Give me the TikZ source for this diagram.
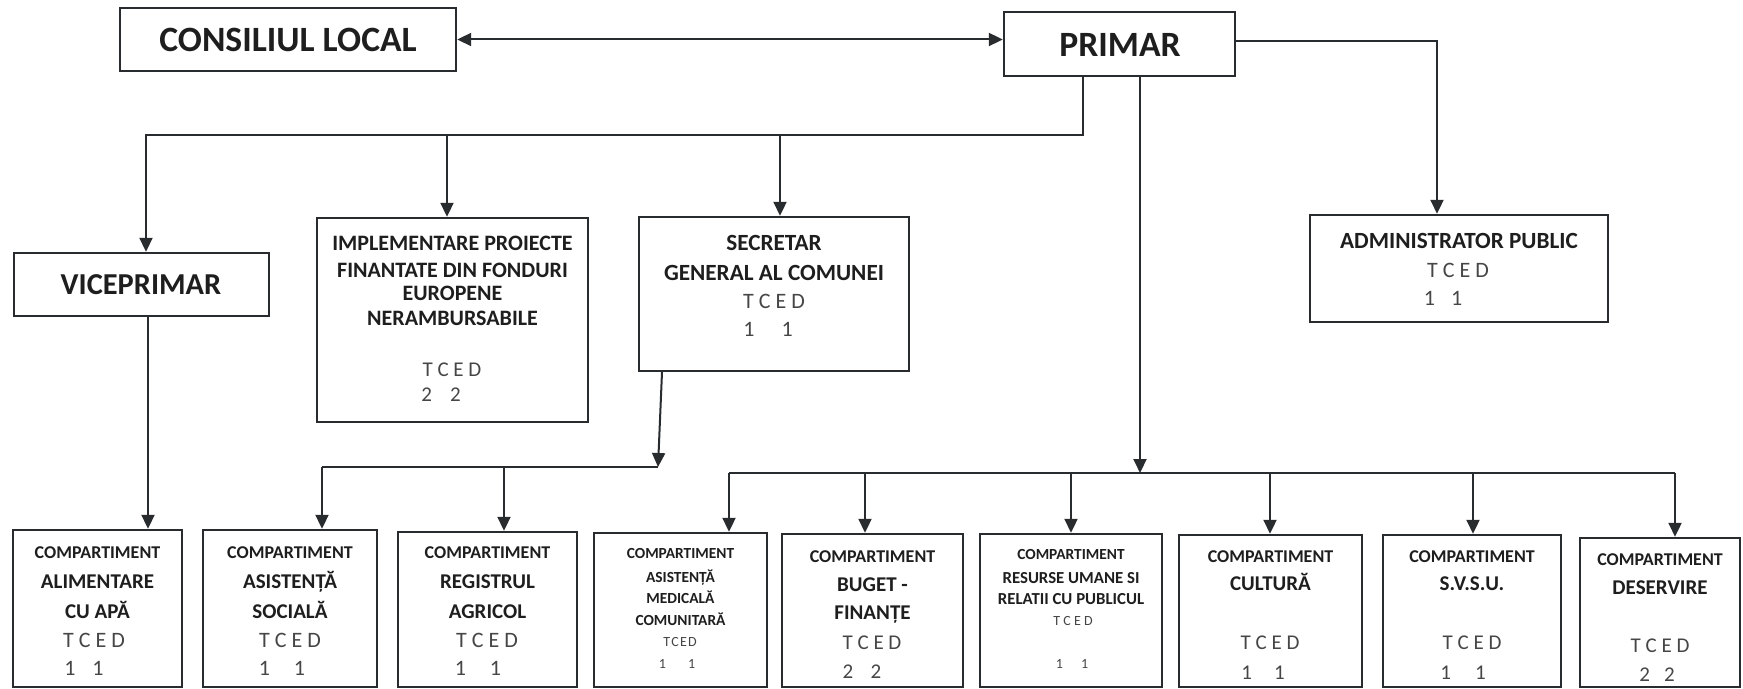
\documentclass[tikz,border=0pt]{standalone}
\usepackage{fontspec}
\setmainfont{Carlito}
\usetikzlibrary{arrows.meta,fit}
\definecolor{ink}{RGB}{40,44,46}
\definecolor{txt}{RGB}{30,30,30}
\definecolor{regc}{RGB}{70,70,70}
\tikzset{
  box/.style={draw=ink, line width=1.2pt, inner sep=0pt},
  conn/.style={draw=ink, line width=1pt},
  arr/.style={conn, -{Triangle[length=7pt,width=6.5pt]}},
  darr/.style={conn, {Triangle[length=7pt,width=6.5pt]}-{Triangle[length=7pt,width=6.5pt]}},
  tbase/.style={inner sep=0pt, text depth=0pt, anchor=center},
  fBig/.style={tbase, text=txt, text height=11.5pt, font=\bfseries\fontsize{17.8pt}{20pt}\selectfont},
  fVice/.style={tbase, text=txt, text height=9.8pt, font=\bfseries\fontsize{15.2pt}{18pt}\selectfont},
  fMid/.style={tbase, text=txt, text height=7.4pt, font=\bfseries\fontsize{11.6pt}{14pt}\selectfont},
  fImp/.style={tbase, text=txt, text height=7.1pt, font=\bfseries\fontsize{11pt}{13pt}\selectfont},
  fName/.style={tbase, text=txt, text height=6.8pt, font=\bfseries\fontsize{10.5pt}{13pt}\selectfont},
  fComp/.style={tbase, text=txt, text height=5.8pt, font=\bfseries\fontsize{9pt}{11pt}\selectfont},
  fSm/.style={tbase, text=txt, text height=5.0pt, font=\bfseries\fontsize{7.7pt}{9pt}\selectfont},
  fSmL/.style={tbase, text=txt, text height=5.4pt, font=\bfseries\fontsize{8.4pt}{10pt}\selectfont},
  fReg/.style={tbase, text=regc, text height=7.1pt, font=\fontsize{11pt}{13pt}\selectfont},
  fRegM/.style={tbase, text=regc, text height=6.8pt, font=\fontsize{10.5pt}{13pt}\selectfont},
  fRegS/.style={tbase, text=regc, text height=4.5pt, font=\fontsize{7pt}{9pt}\selectfont},
  fRegT/.style={tbase, text=regc, text height=4.5pt, font=\fontsize{7pt}{9pt}\selectfont},
}
\begin{document}
\begin{tikzpicture}[x=0.5pt,y=-0.5pt]
\fill[white] (0,0) rectangle (1743,689);
\useasboundingbox (0,0) rectangle (1743,689);

% ---------- boxes ----------
\node[box, fit={(120,8)(456,71)}] (cl) {};
\node[box, fit={(1004,12)(1235,76)}] (pr) {};
\node[box, fit={(1310,215)(1608,322)}] (adm) {};
\node[box, fit={(14,253)(269,316)}] (vp) {};
\node[box, fit={(317,218)(588,422)}] (imp) {};
\node[box, fit={(639,217)(909,371)}] (sec) {};
\node[box, fit={(13,530)(182,687)}] (b1) {};
\node[box, fit={(203,530)(377,687)}] (b2) {};
\node[box, fit={(398,532)(577,687)}] (b3) {};
\node[box, fit={(594,533)(767,687)}] (b4) {};
\node[box, fit={(782,534)(963,687)}] (b5) {};
\node[box, fit={(980,534)(1162,687)}] (b6) {};
\node[box, fit={(1179,535)(1362,687)}] (b7) {};
\node[box, fit={(1383,535)(1561,687)}] (b8) {};
\node[box, fit={(1580,538)(1740,687)}] (b9) {};

% ---------- texts: top ----------
\node[fBig] (cl-t) at (288,40) {CONSILIUL LOCAL};
\node[fBig] (pr-t) at (1120,45) {PRIMAR};
\node[fVice] (vp-t) at (141,285) {VICEPRIMAR};

\node[fImp] (imp-1) at (452.5,243) {IMPLEMENTARE PROIECTE};
\node[fImp] (imp-2) at (452.5,270) {FINANTATE DIN FONDURI};
\node[fImp] (imp-3) at (452.5,293) {EUROPENE};
\node[fImp] (imp-4) at (452.5,318) {NERAMBURSABILE};
\node[fRegM] (imp-5) at (452,370) {T C E D};
\node[fRegM] (imp-6) at (441,395) {2\hspace{9pt}2};

\node[fMid] (sec-1) at (774,243) {SECRETAR};
\node[fMid] (sec-2) at (774,273) {GENERAL AL COMUNEI};
\node[fReg] (sec-3) at (774,301) {T C E D};
\node[fReg] (sec-4) at (768,329) {1\hspace{13.5pt}1};

\node[fMid] (adm-1) at (1459,241) {ADMINISTRATOR PUBLIC};
\node[fReg] (adm-2) at (1458,270) {T C E D};
\node[fReg] (adm-3) at (1443,298) {1\hspace{8pt}1};

% ---------- texts: bottom ----------
\node[fComp] (b1-1) at (97.5,553) {COMPARTIMENT};
\node[fName] (b1-2) at (97.5,582) {ALIMENTARE};
\node[fName] (b1-3) at (97.5,612) {CU APĂ};
\node[fReg] (b1-4) at (94,640) {T C E D};
\node[fReg] (b1-5) at (84,668) {1\hspace{8.5pt}1};

\node[fComp] (b2-1) at (290,553) {COMPARTIMENT};
\node[fName] (b2-2) at (290,582) {ASISTENȚĂ};
\node[fName] (b2-3) at (290,612) {SOCIALĂ};
\node[fReg] (b2-4) at (290,640) {T C E D};
\node[fReg] (b2-5) at (282,668) {1\hspace{12pt}1};

\node[fComp] (b3-1) at (487.5,553) {COMPARTIMENT};
\node[fName] (b3-2) at (487.5,582) {REGISTRUL};
\node[fName] (b3-3) at (487.5,612) {AGRICOL};
\node[fReg] (b3-4) at (487,640) {T C E D};
\node[fReg] (b3-5) at (478,668) {1\hspace{12pt}1};

\node[fSm] (b4-1) at (680.5,553) {COMPARTIMENT};
\node[fSm] (b4-2) at (680.5,577) {ASISTENȚĂ};
\node[fSm] (b4-3) at (680.5,598) {MEDICALĂ};
\node[fSm] (b4-4) at (680.5,620) {COMUNITARĂ};
\node[fRegT] (b4-5) at (680,642) {T\kern0.6pt C\kern0.6pt E\kern0.6pt D};
\node[fRegS] (b4-6) at (677,664) {1\hspace{11pt}1};

\node[fComp] (b5-1) at (872.5,557) {COMPARTIMENT};
\node[fName] (b5-2) at (872.5,585) {BUGET -};
\node[fName] (b5-3) at (872.5,613) {FINANȚE};
\node[fRegM] (b5-4) at (872,643) {T C E D};
\node[fRegM] (b5-5) at (862,672) {2\hspace{8.7pt}2};

\node[fSm] (b6-1) at (1071,554) {COMPARTIMENT};
\node[fSmL] (b6-2) at (1071,578) {RESURSE UMANE SI};
\node[fSmL] (b6-3) at (1071,599) {RELATII CU PUBLICUL};
\node[fRegS] (b6-4) at (1073,621) {T C E D};
\node[fRegS] (b6-5) at (1072,664) {1\hspace{9pt}1};

\node[fComp] (b7-1) at (1270.5,557) {COMPARTIMENT};
\node[fName] (b7-2) at (1270.5,584) {CULTURĂ};
\node[fRegM] (b7-3) at (1270,643) {T C E D};
\node[fRegM] (b7-4) at (1263,673) {1\hspace{11pt}1};

\node[fComp] (b8-1) at (1472,557) {COMPARTIMENT};
\node[fName] (b8-2) at (1472,584) {S.V.S.U.};
\node[fRegM] (b8-3) at (1472,643) {T C E D};
\node[fRegM] (b8-4) at (1463,673) {1\hspace{12pt}1};

\node[fComp] (b9-1) at (1660,560) {COMPARTIMENT};
\node[fName] (b9-2) at (1660,588) {DESERVIRE};
\node[fRegM] (b9-3) at (1660,646) {T C E D};
\node[fRegM] (b9-4) at (1657,675) {2\hspace{7pt}2};

% ---------- connectors ----------
\draw[darr] (cl.east) -- (cl.east -| pr.west);

\coordinate (jA) at (1437,41);
\draw[arr] (pr.east |- jA) -- (jA) -- (jA |- adm.north);

\coordinate (jB) at (1083,135);
\coordinate (jC) at (146,135);
\draw[arr] (pr.south -| jB) -- (jB) -- (jC) -- (jC |- vp.north);
\coordinate (jD) at (447,135);
\draw[arr] (jD) -- (jD |- imp.north);
\coordinate (jE) at (780,135);
\draw[arr] (jE) -- (jE |- sec.north);

\coordinate (jV) at (148,400);
\draw[arr] (vp.south -| jV) -- (jV |- b1.north);

\coordinate (jS0) at (662,380);
\coordinate (jS) at (658,467);
\draw[arr] (sec.south -| jS0) -- (jS);
\coordinate (jL) at (322,467);
\coordinate (jM) at (504,467);
\draw[conn] (jL) -- (jS);
\draw[arr] (jL) -- (jL |- b2.north);
\draw[arr] (jM) -- (jM |- b3.north);

\coordinate (jF) at (1140,473);
\draw[arr] (pr.south -| jF) -- (jF);
\coordinate (h1) at (729,473);
\coordinate (h2) at (865,473);
\coordinate (h3) at (1071,473);
\coordinate (h4) at (1270,473);
\coordinate (h5) at (1473,473);
\coordinate (h6) at (1675,473);
\draw[conn] (h1) -- (h6);
\draw[arr] (h1) -- (h1 |- b4.north);
\draw[arr] (h2) -- (h2 |- b5.north);
\draw[arr] (h3) -- (h3 |- b6.north);
\draw[arr] (h4) -- (h4 |- b7.north);
\draw[arr] (h5) -- (h5 |- b8.north);
\draw[arr] (h6) -- (h6 |- b9.north);
\end{tikzpicture}
\end{document}
